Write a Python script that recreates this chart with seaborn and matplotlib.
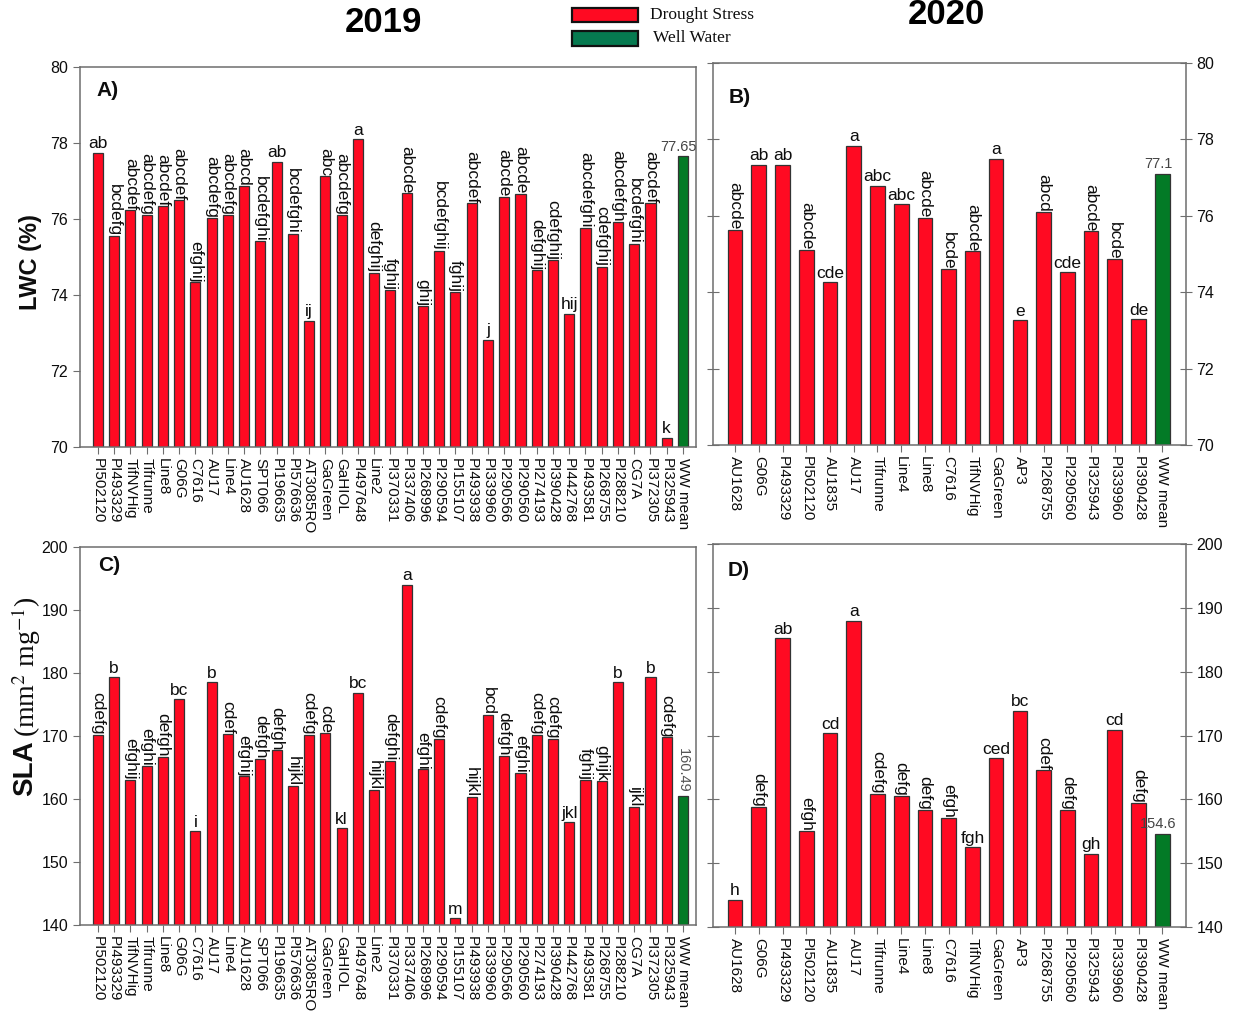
import matplotlib
matplotlib.use("Agg")
import matplotlib.pyplot as plt
from matplotlib.patches import Rectangle
import pandas as pd
import seaborn as sns

# ---------------- data ----------------
genotypes_2019 = ["PI502120", "PI493329", "TifNVHig", "Tifrunne", "Line8", "G06G", "C7616",
                  "AU17", "Line4", "AU1628", "SPT066", "PI196635", "PI576636", "AT3085RO",
                  "GaGreen", "GaHIOL", "PI497648", "Line2", "PI370331", "PI337406", "PI268996",
                  "PI290594", "PI155107", "PI493938", "PI339960", "PI290566", "PI290560",
                  "PI274193", "PI390428", "PI442768", "PI493581", "PI268755", "PI288210",
                  "CG7A", "PI372305", "PI325943"]
genotypes_2020 = ["AU1628", "G06G", "PI493329", "PI502120", "AU1835", "AU17", "Tifrunne",
                  "Line4", "Line8", "C7616", "TifNVHig", "GaGreen", "AP3", "PI268755",
                  "PI290560", "PI325943", "PI339960", "PI390428"]

# Leaf water content (%) under drought, 2019
lwc_2019 = [77.74, 75.55, 76.24, 76.10, 76.34, 76.50, 74.33, 76.03, 76.11, 76.88, 75.41, 77.51,
            75.60, 73.32, 77.12, 76.10, 78.10, 74.59, 74.13, 76.68, 73.72, 75.17, 74.08, 76.42,
            72.82, 76.59, 76.67, 74.66, 74.91, 73.51, 75.77, 74.75, 75.93, 75.34, 76.41, 70.25]
lwc_2019_letters = ["ab", "bcdefg", "abcdef", "abcdefg", "abcdef", "abcdef", "efghij", "abcdefg",
                    "abcdefg", "abcd", "bcdefghi", "ab", "bcdefghi", "ij", "abc", "abcdefg", "a",
                    "defghij", "fghij", "abcde", "ghij", "bcdefghij", "fghij", "abcdef", "j",
                    "abcde", "abcde", "defghij", "cdefghij", "hij", "abcdefghi", "cdefghij",
                    "abcdefgh", "bcdefghi", "abcdef", "k"]
lwc_2019_ww = 77.65

# Leaf water content (%) under drought, 2020
lwc_2020 = [75.64, 77.34, 77.34, 75.11, 74.26, 77.84, 76.79, 76.31, 75.95, 74.60, 75.07, 77.50,
            73.26, 76.10, 74.52, 75.60, 74.86, 73.29]
lwc_2020_letters = ["abcde", "ab", "ab", "abcde", "cde", "a", "abc", "abc", "abcde", "bcde",
                    "abcde", "a", "e", "abcd", "cde", "abcde", "bcde", "de"]
lwc_2020_ww = 77.1

# Specific leaf area (mm2 mg-1) under drought, 2019
sla_2019 = [170.2, 179.3, 163.0, 165.3, 166.7, 175.8, 154.9, 178.5, 170.3, 163.6, 166.4, 167.7,
            162.1, 170.2, 170.5, 155.4, 176.9, 161.4, 166.1, 194.0, 164.7, 169.6, 141.1, 160.3,
            173.4, 166.9, 164.1, 170.2, 169.6, 156.3, 163.0, 162.9, 178.5, 158.7, 179.3, 169.8]
sla_2019_letters = ["cdefg", "b", "efghij", "efghi", "defgh", "bc", "i", "b", "cdef", "efghij",
                    "defgh", "defgh", "hijkl", "cdefg", "cde", "kl", "bc", "hijkl", "defghi", "a",
                    "efghi", "cdefg", "m", "hijkl", "bcd", "defgh", "efghi", "cdefg", "cdefg",
                    "jkl", "fghij", "ghijk", "b", "ijkl", "b", "cdefg"]
sla_2019_ww = 160.49

# Specific leaf area (mm2 mg-1) under drought, 2020
sla_2020 = [144.3, 158.8, 185.2, 155.0, 170.4, 188.0, 160.9, 160.6, 158.4, 157.1, 152.5, 166.4,
            173.9, 164.6, 158.4, 151.5, 170.9, 159.5]
sla_2020_letters = ["h", "defg", "ab", "efgh", "cd", "a", "cdefg", "defg", "defg", "efgh", "fgh",
                    "ced", "bc", "cdef", "defg", "gh", "cd", "defg"]
sla_2020_ww = 154.6

# ---------------- style ----------------
W, H = 1247, 1017
RED = "#ff0a22"
GREEN = "#037a26"
LEG_GREEN = "#067a50"
SPINE = "#6e6e6e"
INK = "#0d0d0d"

sns.set_style("ticks")
plt.rcParams["font.family"] = ["Liberation Sans", "DejaVu Sans"]
plt.rcParams["mathtext.fontset"] = "stix"
plt.rcParams["text.color"] = INK

fig = plt.figure(figsize=(W / 100, H / 100), dpi=100)
fig.patch.set_facecolor("white")


def px_axes(x0, y0, x1, y1):
    return fig.add_axes([x0 / W, 1 - y1 / H, (x1 - x0) / W, (y1 - y0) / H])


def draw_panel(ax, genotypes, values, letters, ww_value, ww_text, ylim, ystep,
               upright_max, upright_extra, ww_rotated, right_axis, xlim, tag, tag_pos):
    df = pd.DataFrame({
        "genotype": genotypes + ["WW mean"],
        "value": values + [ww_value],
        "treatment": ["Drought Stress"] * len(genotypes) + ["Well Water"],
    })
    sns.barplot(data=df, x="genotype", y="value", hue="treatment",
                palette={"Drought Stress": RED, "Well Water": GREEN},
                dodge=False, width=0.62, saturation=1, edgecolor="#333333",
                linewidth=0.9, legend=False, errorbar=None, ax=ax)
    ax.set_ylim(*ylim)
    ax.set_xlim(*xlim)
    ax.set_yticks(range(ylim[0], ylim[1] + 1, ystep))
    ax.set_xlabel("")
    ax.set_ylabel("")

    for i, (v, lab) in enumerate(zip(values, letters)):
        upright = len(lab) <= upright_max or lab in upright_extra
        if upright:
            ax.annotate(lab, (i, v), xytext=(0, 1), textcoords="offset points",
                        ha="center", va="bottom", fontsize=12.5, color=INK)
        else:
            ax.annotate(lab, (i, v), xytext=(0, 0), textcoords="offset points",
                        ha="center", va="bottom", rotation=270, fontsize=12.5,
                        color=INK)
    n = len(genotypes)
    if ww_rotated:
        ax.annotate(ww_text, (n, ww_value), xytext=(0, 2), textcoords="offset points",
                    ha="center", va="bottom", rotation=270, fontsize=10.5, color="#555555")
    else:
        ax.annotate(ww_text, (n, ww_value), xytext=(-3, 2), textcoords="offset points",
                    ha="center", va="bottom", fontsize=10.5, color="#444444")

    for s in ax.spines.values():
        s.set_color(SPINE)
        s.set_linewidth(1.1)
    ax.tick_params(axis="x", labelrotation=270, labelsize=11, length=5, color=SPINE,
                   labelcolor=INK, pad=3)
    ax.tick_params(axis="y", labelsize=11.5, length=5, color=SPINE, labelcolor=INK)
    if right_axis:
        ax.yaxis.tick_right()
        ax.tick_params(axis="y", left=True, right=True, labelleft=False, labelright=True,
                       direction="inout", length=8)
    ax.text(tag_pos[0], tag_pos[1], tag, transform=ax.transAxes, fontsize=15,
            fontweight="bold", ha="left", va="center", color=INK)


axA = px_axes(80, 67, 696, 447)
axB = px_axes(713, 63, 1186, 445)
axC = px_axes(80, 547, 696, 925)
axD = px_axes(713, 544, 1186, 927)

draw_panel(axA, genotypes_2019, lwc_2019, lwc_2019_letters, lwc_2019_ww, "77.65",
           (70, 80), 2, 2, {"hij"}, False, False, (-1.1, 36.8), "A)", (0.026, 0.937))
draw_panel(axB, genotypes_2020, lwc_2020, lwc_2020_letters, lwc_2020_ww, "77.1",
           (70, 80), 2, 3, set(), False, True, (-0.93, 19.0), "B)", (0.033, 0.91))
draw_panel(axC, genotypes_2019, sla_2019, sla_2019_letters, sla_2019_ww, "160.49",
           (140, 200), 10, 2, {"jkl"}, True, False, (-1.1, 36.8), "C)", (0.03, 0.952))
draw_panel(axD, genotypes_2020, sla_2020, sla_2020_letters, sla_2020_ww, "154.6",
           (140, 200), 10, 3, set(), False, True, (-0.93, 19.0), "D)", (0.03, 0.932))

# y-axis titles
fig.text(30 / W, 1 - 262 / H, "LWC (%)", rotation=90, ha="center", va="center",
         fontsize=17, fontweight="bold")
fig.text(25 / W, 1 - 768 / H, "SLA", rotation=90, ha="center", va="center",
         fontsize=20, fontweight="bold")
fig.text(26 / W, 1 - 667 / H, r"(mm$^2$ mg$^{-1}$)", rotation=90, ha="center",
         va="center", fontsize=20, family=["Liberation Serif", "DejaVu Serif"])

# year titles
fig.text(383 / W, 1 - 22 / H, "2019", ha="center", va="center", fontsize=25,
         fontweight="bold", color="black")
fig.text(946 / W, 1 - 15 / H, "2020", ha="center", va="center", fontsize=25,
         fontweight="bold", color="black")

# treatment key
for (y0, y1, col, label, tx) in [(8, 22, RED, "Drought Stress", 650),
                                 (31, 46, LEG_GREEN, "Well Water", 653)]:
    fig.add_artist(Rectangle((572 / W, 1 - y1 / H), 66 / W, (y1 - y0) / H,
                             transform=fig.transFigure, facecolor=col,
                             edgecolor="#111111", linewidth=1.6))
    fig.text(tx / W, 1 - (y0 + y1) / 2 / H, label, ha="left", va="center", fontsize=12.5,
             family=["Liberation Serif", "DejaVu Serif"])

fig.savefig("out.png", dpi=100, facecolor="white")
